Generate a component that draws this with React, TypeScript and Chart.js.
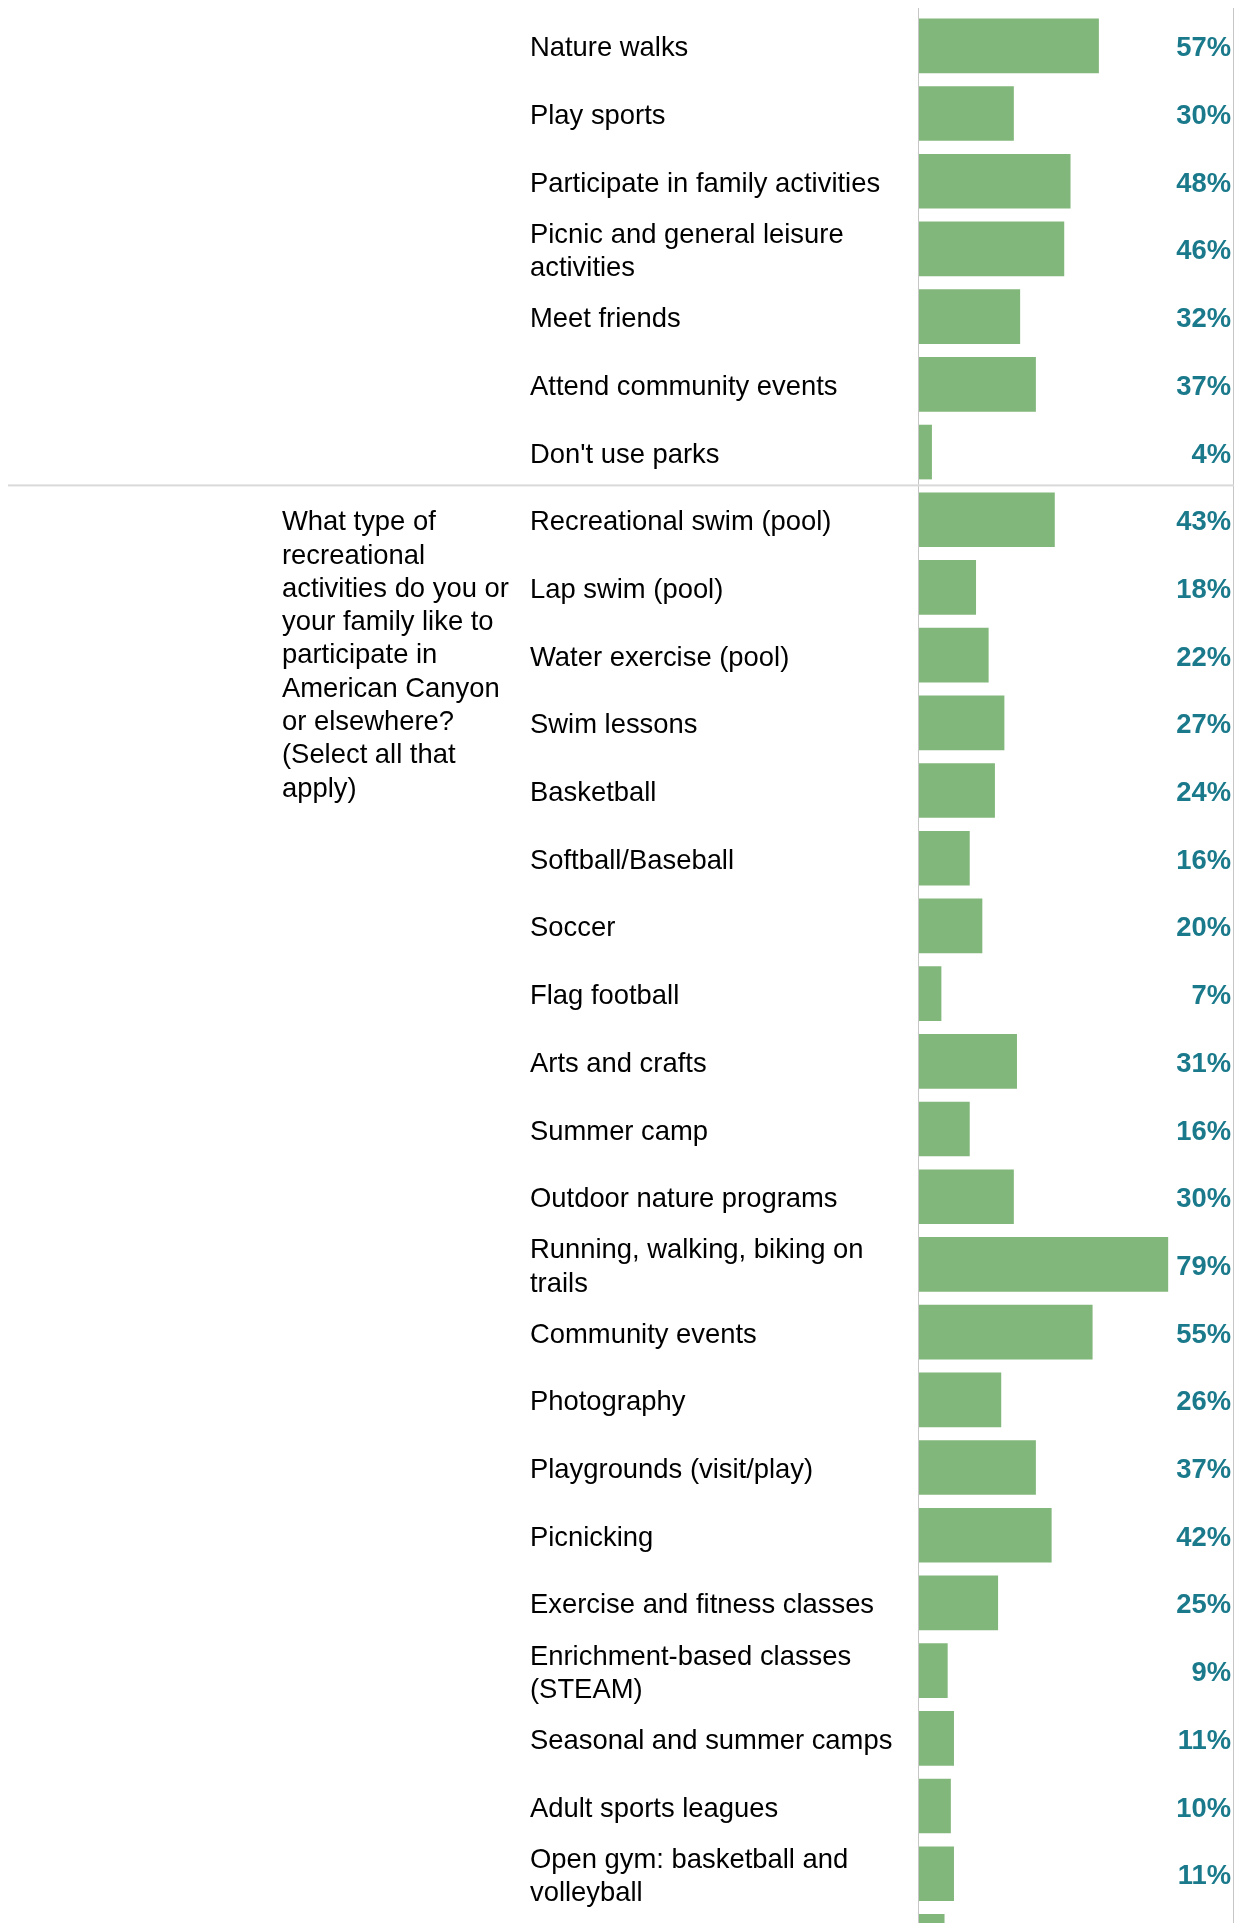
import React, { useEffect, useRef } from "react";
import { Chart, registerables } from "chart.js";

Chart.register(...registerables);

// ---- data ----
const categories: (string | string[])[] = [
  "Nature walks",
  "Play sports",
  "Participate in family activities",
  ["Picnic and general leisure", "activities"],
  "Meet friends",
  "Attend community events",
  "Don't use parks",
  "Recreational swim (pool)",
  "Lap swim (pool)",
  "Water exercise (pool)",
  "Swim lessons",
  "Basketball",
  "Softball/Baseball",
  "Soccer",
  "Flag football",
  "Arts and crafts",
  "Summer camp",
  "Outdoor nature programs",
  ["Running, walking, biking on", "trails"],
  "Community events",
  "Photography",
  "Playgrounds (visit/play)",
  "Picnicking",
  "Exercise and fitness classes",
  ["Enrichment-based classes", "(STEAM)"],
  "Seasonal and summer camps",
  "Adult sports leagues",
  ["Open gym: basketball and", "volleyball"],
  "",
];

const values: number[] = [
  57, 30, 48, 46, 32, 37, 4,
  43, 18, 22, 27, 24, 16, 20, 7, 31, 16, 30, 79, 55, 26, 37, 42, 25, 9, 11, 10, 11, 8,
];

const questionLines: string[] = [
  "What type of",
  "recreational",
  "activities do you or",
  "your family like to",
  "participate in",
  "American Canyon",
  "or elsewhere?",
  "(Select all that",
  "apply)",
];

const groupStartIndex = 7; // first row of the second question

// ---- styling / layout constants ----
const W = 1236;
const H = 1923;
const TOP = 8;
const ROW_PX = 67.7;
const Y_MIN = -0.559;
const Y_MAX = Y_MIN + (H - TOP) / ROW_PX;
const FONT = '"Liberation Sans", Arial, Helvetica, sans-serif';
const FONT_SIZE = 27.4;
const LINE_PX = 33.3;
const TEXT_DY = 3;
const BAR_COLOR = "#82b77b";
const TEAL = "#1a7a8b";

const overlayPlugin = {
  id: "overlay",
  afterDatasetsDraw(chart: any) {
    const { ctx, scales } = chart;
    const xs = scales.x;
    const ys = scales.y;
    const x0 = xs.getPixelForValue(0);
    const x100 = xs.getPixelForValue(100);
    ctx.save();
    // left axis line and right border line
    ctx.fillStyle = "#c6c6c6";
    ctx.fillRect(x0 - 1, TOP, 1, H - TOP);
    ctx.fillRect(x100 - 1, TOP, 1, H - TOP);
    // group separator
    ctx.fillStyle = "#d9d9d9";
    const sy = ys.getPixelForValue(groupStartIndex - 0.5);
    ctx.fillRect(8, sy - 1.5, x100 - 8, 2);
    // value labels
    ctx.font = `bold ${FONT_SIZE}px ${FONT}`;
    ctx.fillStyle = TEAL;
    ctx.textAlign = "right";
    ctx.textBaseline = "middle";
    values.forEach((v, i) => {
      ctx.fillText(`${v}%`, x100 - 3, ys.getPixelForValue(i) + TEXT_DY);
    });
    // question text
    ctx.font = `${FONT_SIZE}px ${FONT}`;
    ctx.fillStyle = "#000";
    ctx.textAlign = "left";
    const qy = ys.getPixelForValue(groupStartIndex) + TEXT_DY;
    questionLines.forEach((line, k) => {
      ctx.fillText(line, 282, qy + k * LINE_PX);
    });
    ctx.restore();
  },
};

export default function App() {
  const canvasRef = useRef<HTMLCanvasElement | null>(null);

  useEffect(() => {
    const canvas = canvasRef.current;
    if (!canvas) return;
    const chart = new Chart(canvas, {
      type: "bar",
      data: {
        datasets: [
          {
            data: values.map((v, i) => ({ x: v, y: i })),
            backgroundColor: BAR_COLOR,
            borderWidth: 0,
            barThickness: 54,
          },
        ],
      },
      options: {
        indexAxis: "y",
        animation: false,
        responsive: false,
        maintainAspectRatio: false,
        devicePixelRatio: 1,
        layout: { padding: { left: 530, right: 2, top: TOP, bottom: 0 } },
        plugins: {
          legend: { display: false },
          tooltip: { enabled: false },
        },
        scales: {
          x: { type: "linear", min: 0, max: 100, display: false, offset: false },
          y: {
            type: "linear",
            reverse: true,
            offset: false,
            bounds: "data",
            min: Y_MIN,
            max: Y_MAX,
            afterBuildTicks: (scale: any) => {
              scale.ticks = categories.map((_, i) => ({ value: i }));
            },
            afterFit: (scale: any) => {
              scale.width = 389;
              scale.paddingTop = 0;
              scale.paddingBottom = 0;
            },
            grid: { display: false, drawTicks: false, offset: false },
            border: { display: false },
            ticks: {
              autoSkip: false,
              crossAlign: "far",
              padding: 0,
              labelOffset: TEXT_DY,
              color: "#000",
              font: { family: FONT, size: FONT_SIZE, lineHeight: LINE_PX / FONT_SIZE },
              callback: (v: any) => categories[v as number] ?? "",
            },
          },
        },
      },
      plugins: [overlayPlugin],
    } as any);
    return () => chart.destroy();
  }, []);

  return (
    <div style={{ position: "absolute", left: 0, top: 0, width: W, height: H, background: "#fff" }}>
      <canvas ref={canvasRef} width={W} height={H} style={{ display: "block", width: W, height: H }} />
    </div>
  );
}
